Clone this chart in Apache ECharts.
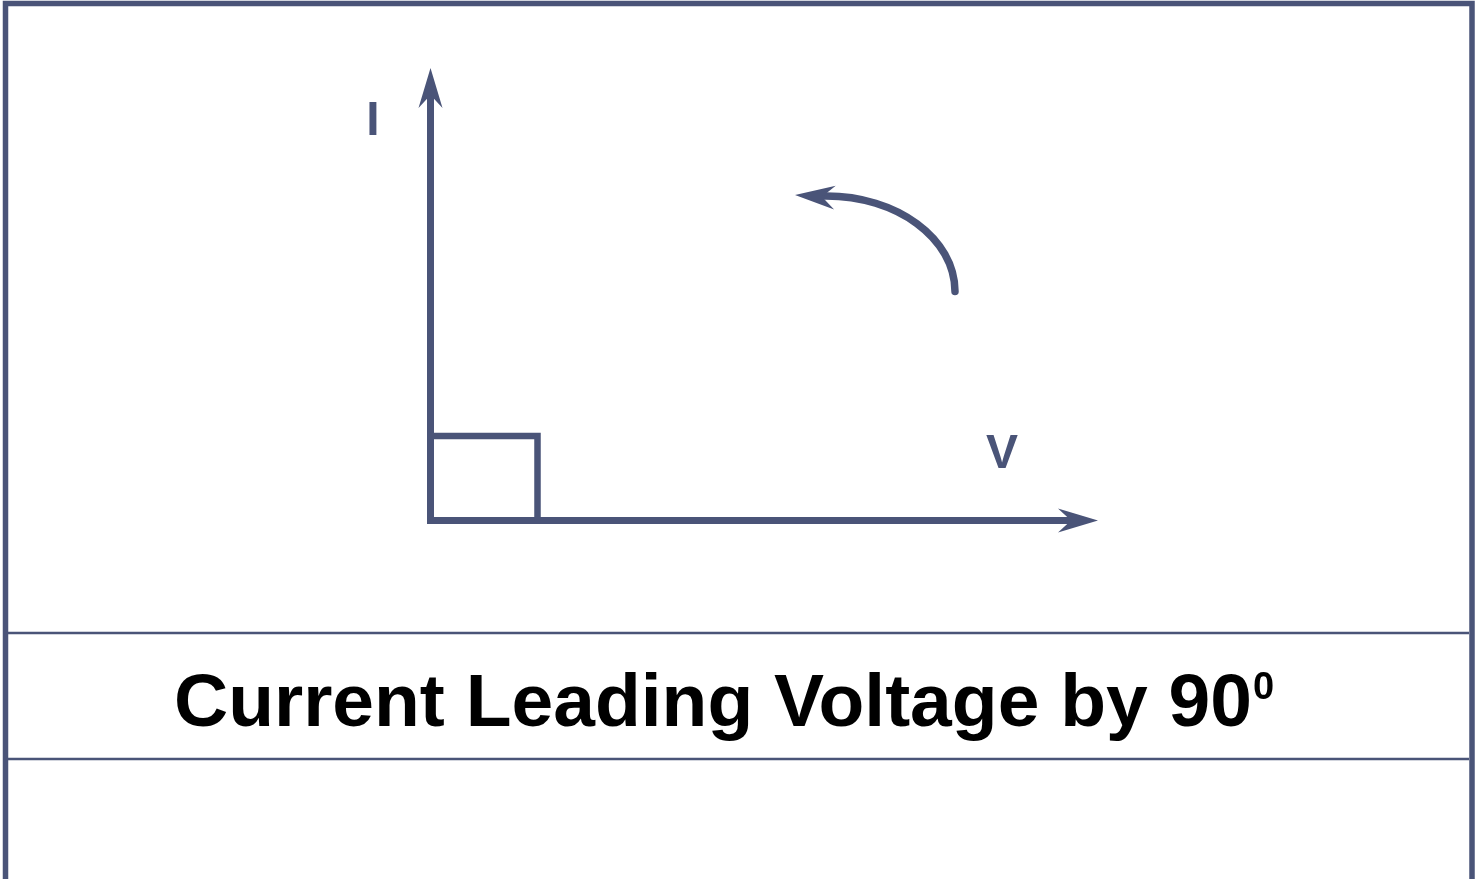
<!DOCTYPE html>
<html>
<head>
<meta charset="utf-8">
<title>Current Leading Voltage by 90</title>
<script src="https://cdn.jsdelivr.net/npm/echarts@6/dist/echarts.min.js"></script>
<style>
html, body { margin: 0; padding: 0; background: #fff; }
#main { width: 1475px; height: 879px; }
</style>
</head>
<body>
<div id="main"></div>
<script>
// diagram units: 1 unit = 1 px, origin at the foot of the two phasors
var vPhasor = [[0, 0], [667.5, 0]];      // V, the reference
var iPhasor = [[0, 0], [0, 452.5]];      // I, leading by 90
var rightAngle = [[0, 84.5], [107, 84.5], [107, 0]];
// rotation arc as a cubic: start, control 1, control 2, end
var rotation = [[524.5, 229], [524.5, 282], [466.5, 325], [394.5, 324.5]];
var rotationHead = [[402.5, 323], [364.5, 325.5]];
var labels = [{ name: 'I', value: [-57.5, 399] }, { name: 'V', value: [571.5, 66] }];
var titleText = 'Current Leading Voltage by 90';
var titleSup = '0';

var ink = '#4a5478';
var headLen = 40, headWid = 24;
var headPath = 'path://M12,0 L24,40 L12,27 L0,40 Z';

// shaft stops inside the head, head is centred half its length back from the tip
function unit(seg) {
  var dx = seg[1][0] - seg[0][0], dy = seg[1][1] - seg[0][1];
  var len = Math.sqrt(dx * dx + dy * dy);
  return [dx / len, dy / len];
}
function back(seg, d) {
  var u = unit(seg);
  return [seg[1][0] - u[0] * d, seg[1][1] - u[1] * d];
}
function head(seg) {
  var u = unit(seg);
  return { value: back(seg, headLen / 2), symbolRotate: Math.atan2(u[1], u[0]) * 180 / Math.PI - 90 };
}

var myChart = echarts.init(document.getElementById('main'));

var option = {
  animation: false,
  backgroundColor: '#fff',
  title: {
    left: 174,
    top: 660,
    padding: 0,
    text: '{a|' + titleText + '}{b|' + titleSup + '}',
    textStyle: {
      rich: {
        a: { fontFamily: 'Liberation Sans, Arial, sans-serif', fontWeight: 'bold', fontSize: 75, color: '#000', lineHeight: 90 },
        b: { fontFamily: 'Liberation Sans, Arial, sans-serif', fontWeight: 'bold', fontSize: 38, color: '#000', verticalAlign: 'top', lineHeight: 60, padding: [10, 0, 0, 1] }
      }
    }
  },
  grid: { left: 0, right: 0, top: 0, bottom: 0 },
  xAxis: { type: 'value', min: -430.5, max: 1044.5, show: false },
  yAxis: { type: 'value', min: -358.5, max: 520.5, show: false },
  graphic: [
    { type: 'rect', shape: { x: 5.5, y: 3.5, width: 1466.5, height: 920 }, style: { fill: 'none', stroke: ink, lineWidth: 5.5 } },
    { type: 'line', shape: { x1: 8, y1: 633, x2: 1469, y2: 633 }, style: { stroke: ink, lineWidth: 2.5 } },
    { type: 'line', shape: { x1: 8, y1: 759, x2: 1469, y2: 759 }, style: { stroke: ink, lineWidth: 2.5 } }
  ],
  series: [
    {
      type: 'line', data: rightAngle, symbol: 'none',
      lineStyle: { color: ink, width: 6.5, join: 'miter', cap: 'butt' }
    },
    {
      // rotation arc, placed through the axes
      type: 'custom', data: rotation, encode: { x: 0, y: 1 },
      renderItem: function (params, api) {
        if (params.dataIndex !== 0) return null;
        var p = rotation.map(function (d) { return api.coord(d); });
        return {
          type: 'bezierCurve',
          shape: { x1: p[0][0], y1: p[0][1], cpx1: p[1][0], cpy1: p[1][1], cpx2: p[2][0], cpy2: p[2][1], x2: p[3][0], y2: p[3][1] },
          style: { fill: null, stroke: ink, lineWidth: 7.5, lineCap: 'round' }
        };
      }
    },
    {
      type: 'lines', coordinateSystem: 'cartesian2d',
      lineStyle: { color: ink, width: 7, opacity: 1, cap: 'square' },
      data: [
        { coords: [vPhasor[0], back(vPhasor, 25)] },
        { coords: [iPhasor[0], back(iPhasor, 25)] }
      ]
    },
    {
      type: 'scatter', symbol: headPath, symbolSize: [headWid, headLen],
      itemStyle: { color: ink, opacity: 1 },
      data: [head(vPhasor), head(iPhasor), head(rotationHead)]
    },
    {
      type: 'scatter', data: labels, symbolSize: 0,
      itemStyle: { color: ink, opacity: 1 },
      label: {
        show: true, position: 'inside', formatter: '{b}',
        fontFamily: 'Liberation Sans, Arial, sans-serif', fontWeight: 'bold', fontSize: 48, color: ink
      }
    }
  ]
};

myChart.setOption(option);
window.addEventListener('resize', function () { myChart.resize(); });
</script>
</body>
</html>
